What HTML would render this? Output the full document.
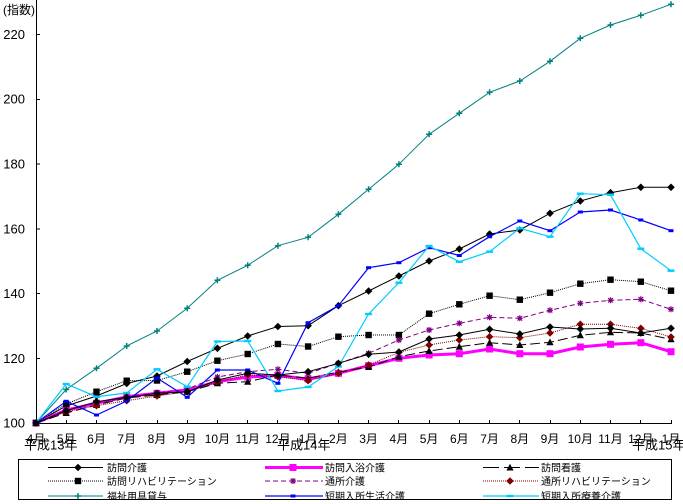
<!DOCTYPE html>
<html><head><meta charset="utf-8"><style>
html,body{margin:0;padding:0;background:#fff;}
svg{display:block;}
text{font-family:"Liberation Sans","Noto Sans CJK JP",sans-serif;fill:#000;}
</style></head><body>
<svg width="683" height="504" viewBox="0 0 683 504" xmlns="http://www.w3.org/2000/svg">
<defs>
<marker id="mDia" markerUnits="userSpaceOnUse" markerWidth="10" markerHeight="10" viewBox="-5 -5 10 10" refX="0" refY="0" overflow="visible"><polygon points="0,-3.8 3.8,0 0,3.8 -3.8,0" fill="#000"/></marker>
<marker id="mSq" markerUnits="userSpaceOnUse" markerWidth="10" markerHeight="10" viewBox="-5 -5 10 10" refX="0" refY="0" overflow="visible"><rect x="-3.2" y="-3.2" width="6.4" height="6.4" fill="#000"/></marker>
<marker id="mMsq" markerUnits="userSpaceOnUse" markerWidth="10" markerHeight="10" viewBox="-5 -5 10 10" refX="0" refY="0" overflow="visible"><rect x="-3.5" y="-3.5" width="7" height="7" fill="#ff00ff"/></marker>
<marker id="mTri" markerUnits="userSpaceOnUse" markerWidth="10" markerHeight="10" viewBox="-5 -5 10 10" refX="0" refY="0" overflow="visible"><polygon points="0,-3.8 3.6,3 -3.6,3" fill="#000"/></marker>
<marker id="mAst" markerUnits="userSpaceOnUse" markerWidth="10" markerHeight="10" viewBox="-5 -5 10 10" refX="0" refY="0" overflow="visible"><path d="M-3,0H3M0,-3V3M-2.3,-2.3L2.3,2.3M-2.3,2.3L2.3,-2.3" stroke="#800080" stroke-width="1.2" fill="none"/></marker>
<marker id="mRdia" markerUnits="userSpaceOnUse" markerWidth="10" markerHeight="10" viewBox="-5 -5 10 10" refX="0" refY="0" overflow="visible"><polygon points="0,-3.8 3.8,0 0,3.8 -3.8,0" fill="#800000"/></marker>
<marker id="mPlus" markerUnits="userSpaceOnUse" markerWidth="10" markerHeight="10" viewBox="-5 -5 10 10" refX="0" refY="0" overflow="visible"><path d="M-3,0H3M0,-3V3" stroke="#008080" stroke-width="1.5" fill="none"/></marker>
<marker id="mBsq" markerUnits="userSpaceOnUse" markerWidth="10" markerHeight="10" viewBox="-5 -5 10 10" refX="0" refY="0" overflow="visible"><rect x="-2.5" y="-1.5" width="5" height="3" fill="#0000ff"/></marker>
<marker id="mCd" markerUnits="userSpaceOnUse" markerWidth="10" markerHeight="10" viewBox="-5 -5 10 10" refX="0" refY="0" overflow="visible"><rect x="-3.5" y="-1.2" width="7" height="2.4" fill="#00ccff"/></marker>
<clipPath id="lg"><rect x="19" y="460" width="652" height="39.5"/></clipPath>
</defs>

<!-- axis labels -->
<text x="3" y="14" font-size="12">(指数)</text>
<g font-size="13" text-anchor="end">
<text x="25" y="38.9">220</text>
<text x="25" y="103.7">200</text>
<text x="25" y="168.5">180</text>
<text x="25" y="233.3">160</text>
<text x="25" y="298.1">140</text>
<text x="25" y="362.9">120</text>
<text x="25" y="427.7">100</text>
</g>

<!-- axes -->
<g stroke="#000" stroke-width="1" shape-rendering="crispEdges" fill="none">
<line x1="36.5" y1="0" x2="36.5" y2="424"/>
<line x1="36" y1="423.5" x2="672" y2="423.5"/>
<path d="M36,34.5h4M36,99.3h4M36,164.1h4M36,228.9h4M36,293.7h4M36,358.5h4"/>
<path d="M66.5,420v3M96.5,420v3M126.5,420v3M157.5,420v3M187.5,420v3M217.5,420v3M247.5,420v3M277.5,420v3M308.5,420v3M338.5,420v3M368.5,420v3M398.5,420v3M429.5,420v3M459.5,420v3M489.5,420v3M519.5,420v3M550.5,420v3M580.5,420v3M610.5,420v3M640.5,420v3M671.5,420v3"/>
</g>

<!-- x labels -->
<g font-size="12" text-anchor="middle">
<text x="36" y="443">4月</text>
<text x="66.2" y="443">5月</text>
<text x="96.5" y="443">6月</text>
<text x="126.7" y="443">7月</text>
<text x="157" y="443">8月</text>
<text x="187.2" y="443">9月</text>
<text x="217.4" y="443">10月</text>
<text x="247.7" y="443">11月</text>
<text x="277.9" y="443">12月</text>
<text x="308.1" y="443">1月</text>
<text x="338.4" y="443">2月</text>
<text x="368.6" y="443">3月</text>
<text x="398.9" y="443">4月</text>
<text x="429.1" y="443">5月</text>
<text x="459.3" y="443">6月</text>
<text x="489.6" y="443">7月</text>
<text x="519.8" y="443">8月</text>
<text x="550" y="443">9月</text>
<text x="580.3" y="443">10月</text>
<text x="610.5" y="443">11月</text>
<text x="640.8" y="443">12月</text>
<text x="671" y="443">1月</text>
</g>
<g font-size="13">
<text x="24" y="449.5">平成13年</text>
<text x="277" y="449.5">平成14年</text>
<text x="632" y="449.5">平成15年</text>
</g>

<!-- series -->
<g fill="none">
<polyline stroke="#000" stroke-width="1" marker-start="url(#mDia)" marker-mid="url(#mDia)" marker-end="url(#mDia)" points="36,423 66.2,406 96.5,396 126.7,383.5 157,376 187.2,361.5 217.4,348.3 247.7,336 277.9,326.5 308.1,325.7 338.4,305.7 368.6,291 398.9,276 429.1,261 459.3,249 489.6,234 519.8,230 550,213.3 580.3,201 610.5,192.7 640.8,187.3 671,187.3"/>
<polyline stroke="#ff00ff" stroke-width="3" marker-start="url(#mMsq)" marker-mid="url(#mMsq)" marker-end="url(#mMsq)" points="36,423 66.2,410 96.5,403.3 126.7,396.7 157,393.3 187.2,390 217.4,381.7 247.7,377 277.9,375.5 308.1,379 338.4,373.3 368.6,365.7 398.9,358.3 429.1,355 459.3,353.7 489.6,349 519.8,353.7 550,353.7 580.3,347 610.5,344.3 640.8,342.7 671,351.7"/>
<polyline stroke="#000" stroke-width="1" stroke-dasharray="10 4" marker-start="url(#mTri)" marker-mid="url(#mTri)" marker-end="url(#mTri)" points="36,423 66.2,413 96.5,405 126.7,398 157,395 187.2,391.7 217.4,383.3 247.7,381.7 277.9,375 308.1,378.3 338.4,372 368.6,367 398.9,356.7 429.1,351 459.3,346.7 489.6,342.7 519.8,345 550,342.3 580.3,335.3 610.5,332.3 640.8,333 671,339.3"/>
<polyline stroke="#000" stroke-width="1" stroke-dasharray="1 1" marker-start="url(#mSq)" marker-mid="url(#mSq)" marker-end="url(#mSq)" points="36,423 66.2,404 96.5,391.7 126.7,380.7 157,380.5 187.2,371.7 217.4,360.7 247.7,354 277.9,344 308.1,346.5 338.4,336.7 368.6,335 398.9,335 429.1,313.7 459.3,304.3 489.6,295.7 519.8,299.7 550,292.7 580.3,283.7 610.5,279.7 640.8,281.7 671,290.7"/>
<polyline stroke="#800080" stroke-width="1" stroke-dasharray="5 3" marker-start="url(#mAst)" marker-mid="url(#mAst)" marker-end="url(#mAst)" points="36,423 66.2,410 96.5,403 126.7,398 157,393 187.2,389 217.4,377 247.7,371.7 277.9,369.3 308.1,373.3 338.4,363.3 368.6,353.3 398.9,340 429.1,330 459.3,323.3 489.6,317.3 519.8,318.3 550,310.3 580.3,303.3 610.5,300.3 640.8,299.3 671,309.3"/>
<polyline stroke="#800000" stroke-width="1" stroke-dasharray="1 1" marker-start="url(#mRdia)" marker-mid="url(#mRdia)" marker-end="url(#mRdia)" points="36,423 66.2,411.7 96.5,405.7 126.7,400.7 157,396 187.2,391.7 217.4,381.7 247.7,375 277.9,376.7 308.1,380.7 338.4,373.3 368.6,365 398.9,352.3 429.1,345 459.3,340 489.6,336.7 519.8,337.7 550,333 580.3,324.3 610.5,324.3 640.8,328.3 671,337"/>
<polyline stroke="#008080" stroke-width="1" marker-start="url(#mPlus)" marker-mid="url(#mPlus)" marker-end="url(#mPlus)" points="36,423 66.2,389.5 96.5,368.3 126.7,346 157,331 187.2,308.3 217.4,280.3 247.7,265.3 277.9,245.7 308.1,237.3 338.4,214.3 368.6,189.3 398.9,164.3 429.1,134.3 459.3,113.3 489.6,92.3 519.8,81 550,61.3 580.3,38.3 610.5,25 640.8,15.3 671,4.3"/>
<polyline stroke="#0000ff" stroke-width="1.2" marker-start="url(#mBsq)" marker-mid="url(#mBsq)" marker-end="url(#mBsq)" points="36,423 66.2,401.3 96.5,415 126.7,401 157,378 187.2,397.3 217.4,370 247.7,370 277.9,383.3 308.1,322.7 338.4,305.7 368.6,267.7 398.9,262.7 429.1,247.7 459.3,255.5 489.6,236.7 519.8,221 550,230.7 580.3,212 610.5,210 640.8,220 671,230.7"/>
<polyline stroke="#00ccff" stroke-width="1.2" marker-start="url(#mCd)" marker-mid="url(#mCd)" marker-end="url(#mCd)" points="36,423 66.2,384 96.5,396.7 126.7,393 157,369.3 187.2,386.7 217.4,341.5 247.7,341 277.9,391 308.1,387 338.4,366.5 368.6,314 398.9,282.7 429.1,246 459.3,261.7 489.6,251.7 519.8,228.3 550,236.7 580.3,193.7 610.5,194.7 640.8,248.7 671,270.7"/>
<polyline stroke="#000" stroke-width="1" marker-start="url(#mDia)" marker-mid="url(#mDia)" marker-end="url(#mDia)" points="36,423 66.2,410.7 96.5,401.7 126.7,397.3 157,393.3 187.2,391.7 217.4,380 247.7,373.3 277.9,375 308.1,371.7 338.4,363.3 368.6,354.3 398.9,352 429.1,339 459.3,335 489.6,329.3 519.8,334 550,327 580.3,329 610.5,328.3 640.8,333 671,328.3"/>
</g>

<!-- legend -->
<rect x="18.5" y="459.5" width="653" height="40" fill="#fff" stroke="#000" stroke-width="1" shape-rendering="crispEdges"/>
<g clip-path="url(#lg)">
<g fill="none">
<polyline stroke="#000" stroke-width="1" marker-mid="url(#mDia)" points="48,467.5 78,467.5 103,467.5"/>
<polyline stroke="#ff00ff" stroke-width="3" marker-mid="url(#mMsq)" points="265,467.5 293,467.5 323,467.5"/>
<polyline stroke="#000" stroke-width="1" stroke-dasharray="16 5" marker-mid="url(#mTri)" points="483,467.5 510,467.5 539,467.5"/>
<polyline stroke="#000" stroke-width="1" stroke-dasharray="1 1" marker-mid="url(#mSq)" points="48,481 78,481 103,481"/>
<polyline stroke="#800080" stroke-width="1" stroke-dasharray="5 3" marker-mid="url(#mAst)" points="265,481 293,481 323,481"/>
<polyline stroke="#800000" stroke-width="1" stroke-dasharray="1 1" marker-mid="url(#mRdia)" points="483,481 510,481 539,481"/>
<polyline stroke="#008080" stroke-width="1" marker-mid="url(#mPlus)" points="48,496 78,496 103,496"/>
<polyline stroke="#0000ff" stroke-width="1.2" marker-mid="url(#mBsq)" points="265,496 293,496 323,496"/>
<polyline stroke="#00ccff" stroke-width="1.2" marker-mid="url(#mCd)" points="483,496 510,496 539,496"/>
</g>
<g font-size="10">
<text x="107" y="471.5">訪問介護</text>
<text x="325" y="471.5">訪問入浴介護</text>
<text x="541" y="471.5">訪問看護</text>
<text x="107" y="485">訪問リハビリテーション</text>
<text x="325" y="485">通所介護</text>
<text x="541" y="485">通所リハビリテーション</text>
<text x="107" y="500">福祉用具貸与</text>
<text x="325" y="500">短期入所生活介護</text>
<text x="541" y="500">短期入所療養介護</text>
</g>
</g>
</svg>
</body></html>
